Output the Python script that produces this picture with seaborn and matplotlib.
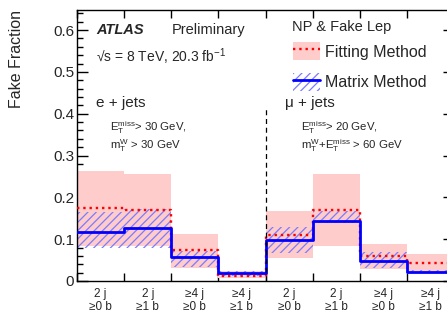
import numpy as np
import pandas as pd
import matplotlib
matplotlib.use("Agg")
import matplotlib.pyplot as plt
import seaborn as sns
from matplotlib.patches import Patch
from matplotlib.lines import Line2D
from matplotlib.ticker import MultipleLocator, FixedLocator, FixedFormatter

# ---------------- data ----------------
bin_labels = ["2 j\n≥0 b", "2 j\n≥1 b", "≥4 j\n≥0 b", "≥4 j\n≥1 b",
              "2 j\n≥0 b", "2 j\n≥1 b", "≥4 j\n≥0 b", "≥4 j\n≥1 b"]
fit_val = [0.175, 0.170, 0.074, 0.012, 0.110, 0.170, 0.059, 0.043]
fit_lo = [0.084, 0.084, 0.032, 0.006, 0.056, 0.084, 0.028, 0.021]
fit_hi = [0.262, 0.256, 0.112, 0.025, 0.168, 0.256, 0.089, 0.065]
mm_val = [0.118, 0.126, 0.058, 0.018, 0.098, 0.144, 0.049, 0.021]
mm_lo = [0.079, 0.080, 0.034, 0.013, 0.068, 0.138, 0.031, 0.018]
mm_hi = [0.165, 0.172, 0.071, 0.025, 0.130, 0.168, 0.070, 0.026]
n_e_bins = 4
y_ticks = [0, 0.1, 0.2, 0.3, 0.4, 0.5, 0.6]
y_tick_labels = ["0", "0.1", "0.2", "0.3", "0.4", "0.5", "0.6"]

# ---------------- style ----------------
sns.set_style("ticks")
plt.rcParams["font.family"] = ["Liberation Sans", "DejaVu Sans"]
plt.rcParams["mathtext.fontset"] = "custom"
plt.rcParams["mathtext.rm"] = "Liberation Sans"
plt.rcParams["mathtext.it"] = "Liberation Sans:italic"
plt.rcParams["mathtext.default"] = "regular"
plt.rcParams["hatch.linewidth"] = 0.9

nb = len(fit_val)
edges = [float(i) for i in range(nb + 1)]
centers = [e + 0.5 for e in edges[:-1]]
df = pd.DataFrame({"bin": centers, "fit": fit_val, "mm": mm_val})

fig = plt.figure(figsize=(4.47, 3.12), dpi=100)
ax = fig.add_axes([77 / 447, 31 / 312, 377 / 447, 271 / 312])

pink = "#ffcccc"
hatch_col = "#7b7bff"

# bands
ax.bar(centers, np.array(fit_hi) - np.array(fit_lo), bottom=fit_lo, width=1.0,
       color=pink, edgecolor="none", linewidth=0, zorder=1)
ax.bar(centers, np.array(mm_hi) - np.array(mm_lo), bottom=mm_lo, width=1.0,
       facecolor="none", edgecolor=hatch_col, hatch="////", linewidth=0, zorder=2)

# step lines through seaborn
sns.histplot(data=df, x="bin", weights="fit", bins=edges, element="step", fill=False,
             color="red", linestyle=":", linewidth=1.7, ax=ax, zorder=3)
sns.histplot(data=df, x="bin", weights="mm", bins=edges, element="step", fill=False,
             color="blue", linewidth=2.0, ax=ax, zorder=4)

# divider between e and mu channels
ax.vlines(n_e_bins, 0, 0.415, colors="black", linestyles=(0, (4, 3)), linewidth=0.9, zorder=5)

ax.set_xlim(0, nb)
ax.set_ylim(0, 0.648)

# ticks
ax.xaxis.set_major_locator(FixedLocator(edges))
ax.xaxis.set_major_formatter(FixedFormatter([""] * len(edges)))
ax.xaxis.set_minor_locator(FixedLocator(centers))
ax.xaxis.set_minor_formatter(FixedFormatter(bin_labels))
ax.yaxis.set_major_locator(FixedLocator(y_ticks))
ax.yaxis.set_major_formatter(FixedFormatter(y_tick_labels))
ax.yaxis.set_minor_locator(MultipleLocator(0.02))
ax.tick_params(axis="both", which="both", direction="in", top=True, right=True,
               width=1.0, color="black")
ax.tick_params(axis="x", which="major", length=6)
ax.tick_params(axis="x", which="minor", length=0, labelsize=8.5, pad=5)
ax.tick_params(axis="y", which="major", length=8, labelsize=11, pad=2)
ax.tick_params(axis="y", which="minor", length=4.5)
for lab in ax.xaxis.get_minorticklabels():
    lab.set_linespacing(1.1)
for s in ax.spines.values():
    s.set_linewidth(1.0)
    s.set_color("black")

ax.set_xlabel("")
ax.set_ylabel("Fake Fraction", fontsize=11.5, loc="top")
ax.yaxis.set_label_coords(-0.14, 1.0)

# texts
ax.text(0.050, 0.926, "ATLAS", fontsize=10.5, fontweight="bold", fontstyle="italic",
        va="center", transform=ax.transAxes)
ax.text(0.252, 0.928, "Preliminary", fontsize=10.5, va="center", transform=ax.transAxes)
ax.text(0.050, 0.826, "√s = 8 TeV, 20.3 fb$^{-1}$", fontsize=10, va="center",
        transform=ax.transAxes)
ax.text(0.050, 0.655, "e + jets", fontsize=11, va="center", transform=ax.transAxes)
ax.text(0.088, 0.567, r"E$_{\mathrm{T}}^{\mathrm{miss}}$> 30 GeV,", fontsize=8.2,
        va="center", transform=ax.transAxes)
ax.text(0.088, 0.500, r"m$_{\mathrm{T}}^{\mathrm{W}}$ > 30 GeV", fontsize=8.2,
        va="center", transform=ax.transAxes)
ax.text(0.552, 0.655, "μ + jets", fontsize=11, va="center", transform=ax.transAxes)
ax.text(0.594, 0.567, r"E$_{\mathrm{T}}^{\mathrm{miss}}$> 20 GeV,", fontsize=8.2,
        va="center", transform=ax.transAxes)
ax.text(0.594, 0.500, r"m$_{\mathrm{T}}^{\mathrm{W}}$+E$_{\mathrm{T}}^{\mathrm{miss}}$ > 60 GeV",
        fontsize=8.2, va="center", transform=ax.transAxes)

# legend
ax.text((292 - 77) / 377, (281 - 27) / 271, "NP & Fake Lep", fontsize=10.5,
        va="center", transform=ax.transAxes)
h_fit = (Patch(facecolor=pink, edgecolor="none"),
         Line2D([], [], color="red", linestyle=":", linewidth=1.7))
h_mm = (Patch(facecolor="none", edgecolor=hatch_col, hatch="////", linewidth=0),
        Line2D([], [], color="blue", linewidth=2.0))
leg = ax.legend([h_fit, h_mm], ["Fitting Method", "Matrix Method"],
                loc="upper left",
                bbox_to_anchor=((293 - 77) / 377, (281 - 42) / 271),
                frameon=False, fontsize=11.5,
                handlelength=1.7, handleheight=1.4, handletextpad=0.3,
                labelspacing=0.78, borderpad=0, borderaxespad=0)

fig.savefig("out.png", dpi=100)
